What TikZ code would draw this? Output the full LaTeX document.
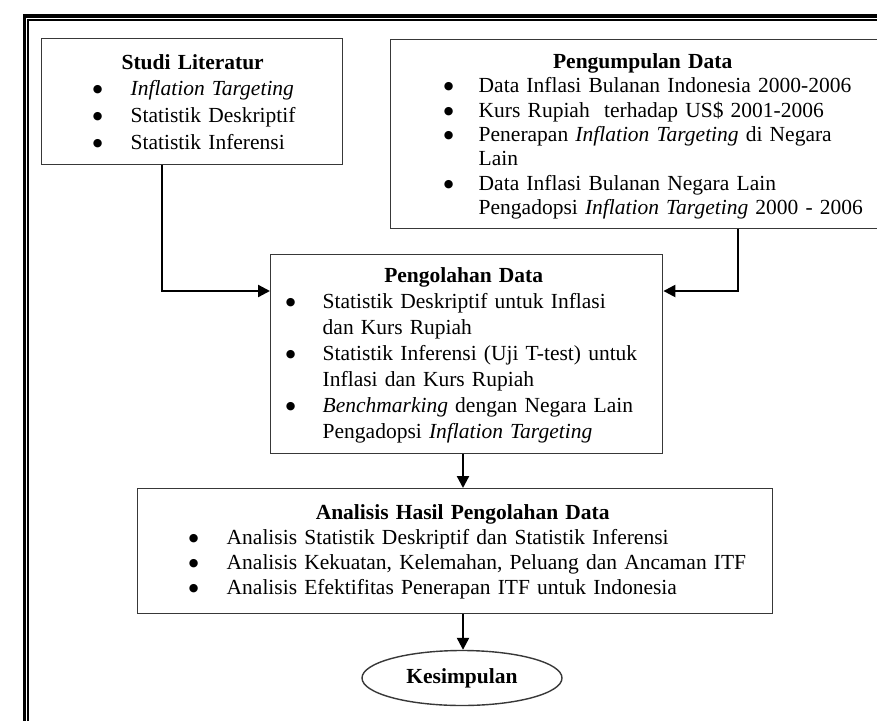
\documentclass[tikz,border=0pt]{standalone}
\usepackage{fontspec}
\setmainfont{Liberation Serif}
\newfontfamily\mydejavu{DejaVu Sans}
\usetikzlibrary{arrows.meta,shapes.geometric}
\newlength\mystrutshift
\newcommand{\mystrut}{\rule[-\dimexpr0.24\baselineskip-\mystrutshift\relax]{0pt}{\dimexpr0.7\baselineskip+\mystrutshift\relax}}
\newcommand{\mydot}{\raisebox{3pt}{\mydejavu\fontsize{11}{11}\selectfont ●}}
\newcommand{\mybul}[2]{\hspace*{#1}\makebox[0pt]{\mydot}\hspace*{#2}\mystrut\ignorespaces}
\newcommand{\mycont}[1]{\hspace*{#1}\mystrut\ignorespaces}
\newcommand{\myttl}[2]{\hspace*{#1}\makebox[0pt]{\mystrut\textbf{#2}}}
\tikzset{
  boxnode/.style={draw=black!78, line width=1.4pt, inner sep=0pt, anchor=north west, align=left},
  conn/.style={line width=2.3pt, -{Triangle[length=12pt,width=12pt]}},
  frameline/.style={line width=#1, black},
}
\begin{document}
\begin{tikzpicture}[x=1pt,y=-1pt]
\useasboundingbox (0,0) rectangle (877,720);
\fill[white] (0,0) rectangle (877,720);
\clip (0,0) rectangle (877,720);
% outer double frame
\draw[frameline=3.5pt] (24.5,16) rectangle (950,800);
\draw[frameline=2pt] (28,20) rectangle (950,800);

\node[boxnode, text width=301pt, minimum height=126pt,
      font=\fontsize{21.5}{26.7}\selectfont\setlength\mystrutshift{3pt}] (studi) at (41,38) {%
\myttl{151pt}{Studi Literatur}\\
\mybul{56pt}{33pt}\textit{Inflation Targeting}\\
\mybul{56pt}{33pt}Statistik Deskriptif\\
\mybul{56pt}{33pt}Statistik Inferensi};

\node[boxnode, text width=504pt, minimum height=189pt,
      font=\fontsize{21.5}{24.4}\selectfont\setlength\mystrutshift{4pt}] (kumpul) at (390,39) {%
\myttl{252pt}{Pengumpulan Data}\\
\mybul{58pt}{30pt}Data Inflasi Bulanan Indonesia 2000-2006\\
\mybul{58pt}{30pt}Kurs Rupiah\ \ terhadap US\$ 2001-2006\\
\mybul{58pt}{30pt}Penerapan \textit{Inflation Targeting} di Negara\\
\mycont{88pt}Lain\\
\mybul{58pt}{30pt}Data Inflasi Bulanan Negara Lain\\
\mycont{88pt}Pengadopsi \textit{Inflation Targeting} 2000 - 2006};

\node[boxnode, text width=392pt, minimum height=199pt,
      font=\fontsize{21.5}{26}\selectfont\setlength\mystrutshift{2.5pt}] (olah) at (270,254) {%
\myttl{193pt}{Pengolahan Data}\\
\mybul{20pt}{32pt}Statistik Deskriptif untuk Inflasi\\
\mycont{52pt}dan Kurs Rupiah\\
\mybul{20pt}{32pt}Statistik Inferensi (Uji T-test) untuk\\
\mycont{52pt}Inflasi dan Kurs Rupiah\\
\mybul{20pt}{32pt}\textit{Benchmarking} dengan Negara Lain\\
\mycont{52pt}Pengadopsi \textit{Inflation Targeting}};

\node[boxnode, text width=635pt, minimum height=125pt,
      font=\fontsize{21.5}{25}\selectfont\setlength\mystrutshift{2pt}] (analisis) at (137,488) {%
\myttl{325pt}{Analisis Hasil Pengolahan Data}\\
\mybul{56pt}{33pt}Analisis Statistik Deskriptif dan Statistik Inferensi\\
\mybul{56pt}{33pt}Analisis Kekuatan, Kelemahan, Peluang dan Ancaman ITF\\
\mybul{56pt}{33pt}Analisis Efektifitas Penerapan ITF untuk Indonesia};

\node[ellipse, draw=black!78, line width=1.4pt, inner sep=0pt,
      minimum width=200pt, minimum height=55pt,
      font=\fontsize{21.5}{26}\selectfont\bfseries] (kesimpulan) at (462,678) {Kesimpulan};

% connectors
\coordinate (s1) at ([xshift=121pt]studi.south west);
\coordinate (k1) at ([xshift=348pt]kumpul.south west);
\coordinate (o1) at ([xshift=193pt]olah.south west);
\coordinate (a1) at ([xshift=326pt]analisis.south west);
\draw[conn] (s1) |- ([yshift=-37pt]olah.north west);
\draw[conn] (k1) |- ([yshift=-37pt]olah.north east);
\draw[conn] (o1) -- (o1 |- analisis.north);
\draw[conn] (a1) -- (a1 |- kesimpulan.north);
\end{tikzpicture}
\end{document}
